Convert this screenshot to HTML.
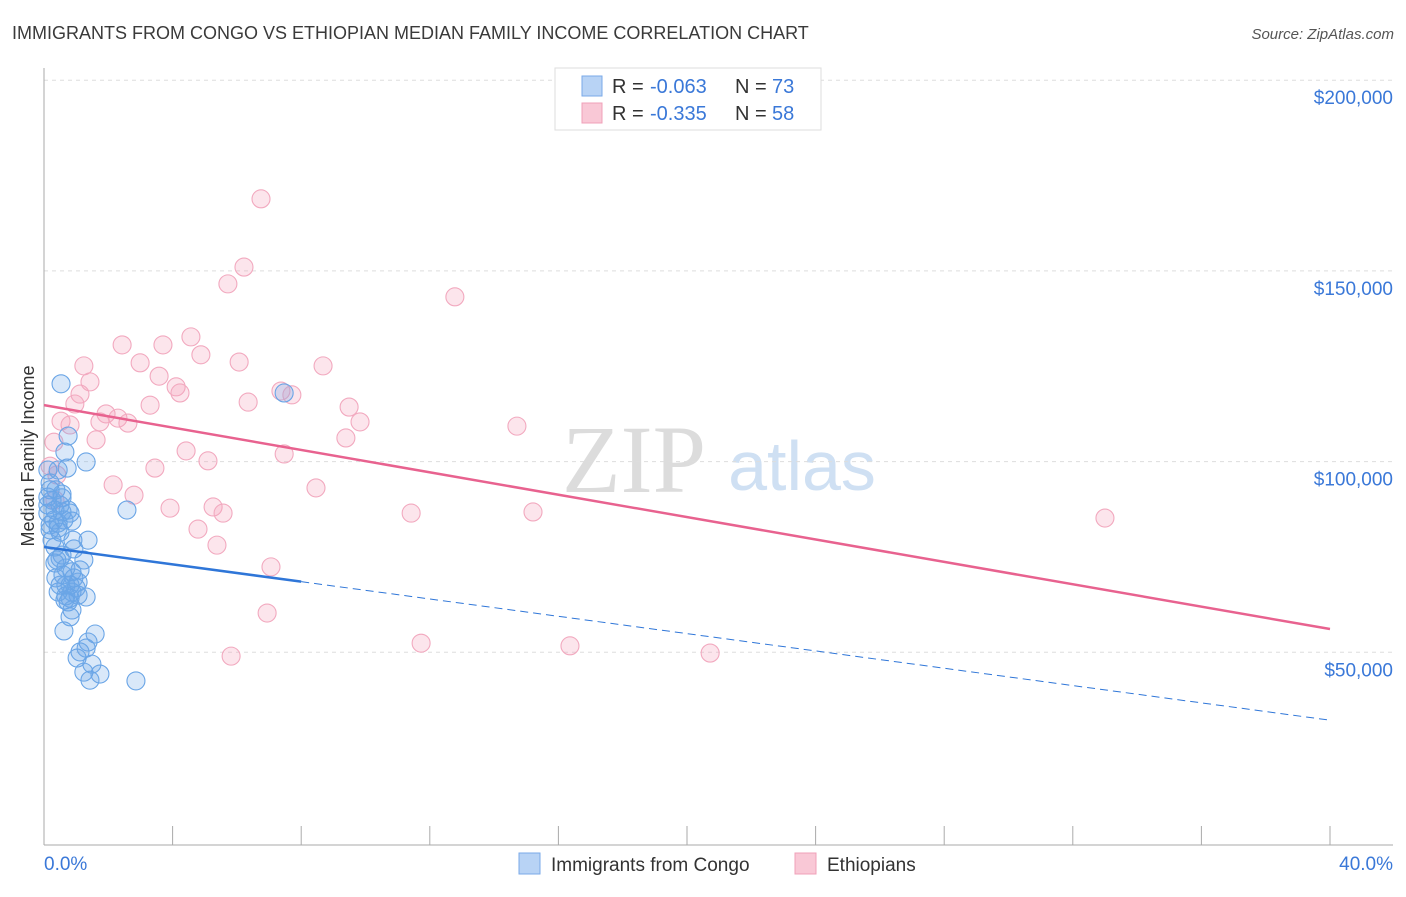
<!DOCTYPE html>
<html><head><meta charset="utf-8"><style>
body{margin:0;background:#fff;font-family:"Liberation Sans",sans-serif}
</style></head><body>
<svg id="chart" width="1406" height="892" xmlns="http://www.w3.org/2000/svg" font-family="Liberation Sans, sans-serif">
<text x="12" y="39" font-size="18" fill="#3a3a3a">IMMIGRANTS FROM CONGO VS ETHIOPIAN MEDIAN FAMILY INCOME CORRELATION CHART</text>
<text x="1394" y="39" font-size="15" fill="#555" text-anchor="end" font-style="italic">Source: ZipAtlas.com</text>
<text x="634" y="492" font-size="96" fill="#dcdcdc" text-anchor="middle" font-family="Liberation Serif, serif">ZIP</text>
<text x="802" y="490" font-size="70" fill="#cfe0f3" text-anchor="middle">atlas</text>
<g id="grid"></g><g id="axes"></g><g id="pts"></g><g id="trend"></g>
<text transform="translate(34,456) rotate(-90)" font-size="18" fill="#333" text-anchor="middle">Median Family Income</text>
<g>
<rect x="555" y="68" width="266" height="62" fill="#fff" stroke="#ddd"/>
<rect x="582" y="76" width="20" height="20" fill="#b8d3f5" stroke="#7aaae8"/>
<rect x="582" y="103" width="20" height="20" fill="#f9c8d6" stroke="#f0a0b8"/>
<text x="612" y="93" font-size="20" fill="#333">R =</text>
<text x="650" y="93" font-size="20" fill="#3a78d8">-0.063</text>
<text x="735" y="93" font-size="20" fill="#333">N =</text>
<text x="772" y="93" font-size="20" fill="#3a78d8">73</text>
<text x="612" y="120" font-size="20" fill="#333">R =</text>
<text x="650" y="120" font-size="20" fill="#3a78d8">-0.335</text>
<text x="735" y="120" font-size="20" fill="#333">N =</text>
<text x="772" y="120" font-size="20" fill="#3a78d8">58</text>
</g>
<g>
<rect x="519" y="853" width="21" height="21" fill="#b8d3f5" stroke="#7aaae8"/>
<text x="551" y="871" font-size="19" fill="#333">Immigrants from Congo</text>
<rect x="795" y="853" width="21" height="21" fill="#f9c8d6" stroke="#f0a0b8"/>
<text x="827" y="871" font-size="19" fill="#333">Ethiopians</text>
</g>
</svg>
<script>
const yTicks=[50000,100000,150000,200000];
const yTickLabels=["$50,000","$100,000","$150,000","$200,000"];
const xEndLabels=["0.0%","40.0%"];
const congoX=[0.53,7.47,0.75,0.65,1.31,0.72,0.44,0.19,0.12,0.56,0.25,0.50,0.34,0.75,2.58,0.12,0.31,0.62,0.87,0.19,0.44,0.50,1.37,0.34,0.93,0.56,0.50,1.24,0.34,0.68,0.87,0.37,0.93,1.06,0.50,0.81,1.00,0.87,0.68,1.31,0.81,0.44,0.75,0.87,0.81,0.62,1.59,1.37,1.12,1.31,1.03,1.49,1.24,1.43,1.74,2.86,0.56,0.19,0.12,0.25,0.40,1.12,0.59,1.06,0.65,0.19,0.37,0.56,0.12,0.44,0.81,0.90,0.68];
const congoY=[120.4,118.0,106.7,102.5,99.9,98.3,97.8,94.4,90.7,91.5,89.9,88.6,87.3,87.3,87.3,86.5,84.7,84.7,84.4,83.4,82.6,81.5,79.4,77.6,77.1,75.5,74.7,74.2,73.4,72.1,71.1,69.5,69.5,68.4,67.6,67.6,66.9,65.8,64.8,64.5,64.2,65.8,63.2,61.1,59.3,55.6,54.8,52.7,50.1,51.1,48.5,46.9,44.8,42.7,44.3,42.5,90.5,92.6,97.8,79.4,74.2,71.6,70.3,65.0,63.7,82.1,92.6,86.8,88.6,83.9,86.5,79.4,67.6];
const ethX=[6.75,6.22,5.72,12.78,4.57,2.43,3.70,4.88,2.99,6.07,8.68,1.24,3.58,1.43,4.11,4.23,7.37,7.71,1.12,0.96,3.30,6.35,9.49,1.93,2.30,9.83,0.53,0.81,1.74,2.61,14.71,1.62,9.39,0.31,4.42,7.47,5.10,3.45,0.40,8.46,2.15,2.80,3.92,5.26,5.57,11.42,15.21,33.0,4.79,5.38,7.06,6.94,11.73,16.36,20.72,5.82,0.19,0.34];
const ethY=[168.9,151.0,146.6,143.2,132.7,130.6,130.6,128.0,125.9,126.1,125.1,125.1,122.4,120.9,119.6,118.0,118.5,117.5,117.7,115.1,114.8,115.6,114.3,112.5,111.4,110.4,110.6,109.6,110.4,110.1,109.3,105.7,106.2,105.1,102.8,102.0,100.2,98.3,96.5,93.1,93.9,91.2,87.8,88.1,86.5,86.5,86.8,85.2,82.3,78.1,72.4,60.3,52.4,51.7,49.8,49.0,98.8,89.9];
const congoTrend=[77.6,32.2]; const congoSolidEnd=8.0;
const ethTrend=[114.8,56.1];
const NS="http://www.w3.org/2000/svg";
const X=p=>44+p*32.15, Y=v=>843-v/50000*190.7, Yk=k=>Y(k*1000);
function mk(t,a,parent){const e=document.createElementNS(NS,t);for(const k in a)e.setAttribute(k,a[k]);document.getElementById(parent).appendChild(e);return e;}
yTicks.forEach((t,i)=>{
 const g=mk('line',{x1:44,x2:1393,y1:Y(t),y2:Y(t),stroke:'#ddd','stroke-dasharray':'4,4'},'grid');
 
 
 const l=mk('text',{x:1393,y:Y(t)+24,'font-size':19,fill:'#3a78d8','text-anchor':'end'},'grid');
 l.textContent=yTickLabels[i];
 
 
});
const ya=mk('line',{x1:44,x2:44,y1:68,y2:845,stroke:'#aaa'},'axes');


const xa=mk('line',{x1:44,x2:1393,y1:845,y2:845,stroke:'#aaa'},'axes');


for(let i=0;i<=10;i++){const t=mk('line',{x1:X(i*4),x2:X(i*4),y1:826,y2:845,stroke:'#aaa'},'axes');
 
 }
[[0,'start',44],[40,'end',1393]].forEach((d,i)=>{const t=mk('text',{x:d[2],y:870,'font-size':19,fill:'#3a78d8','text-anchor':d[1]},'axes');t.textContent=xEndLabels[i];
 
 });
ethX.forEach((x,i)=>{const c=mk('circle',{cx:X(x),cy:Yk(ethY[i]),r:9,fill:'rgba(244,160,188,0.28)',stroke:'#f2a9bf','stroke-width':1.1},'pts');
 
 });
congoX.forEach((x,i)=>{const c=mk('circle',{cx:X(x),cy:Yk(congoY[i]),r:9,fill:'rgba(110,165,230,0.26)',stroke:'#6aa5e6','stroke-width':1.1},'pts');
 
 });
const cy=x=>congoTrend[0]+(congoTrend[1]-congoTrend[0])*x/40;
const l1=mk('line',{x1:X(0),y1:Yk(cy(0)),x2:X(congoSolidEnd),y2:Yk(cy(congoSolidEnd)),stroke:'#2f76d8','stroke-width':2.5},'trend');


const l2=mk('line',{x1:X(congoSolidEnd),y1:Yk(cy(congoSolidEnd)),x2:X(40),y2:Yk(cy(40)),stroke:'#2f76d8','stroke-width':1,'stroke-dasharray':'8,5'},'trend');


const l3=mk('line',{x1:X(0),y1:Yk(ethTrend[0]),x2:X(40),y2:Yk(ethTrend[1]),stroke:'#e8628f','stroke-width':2.5},'trend');


</script>
</body></html>
